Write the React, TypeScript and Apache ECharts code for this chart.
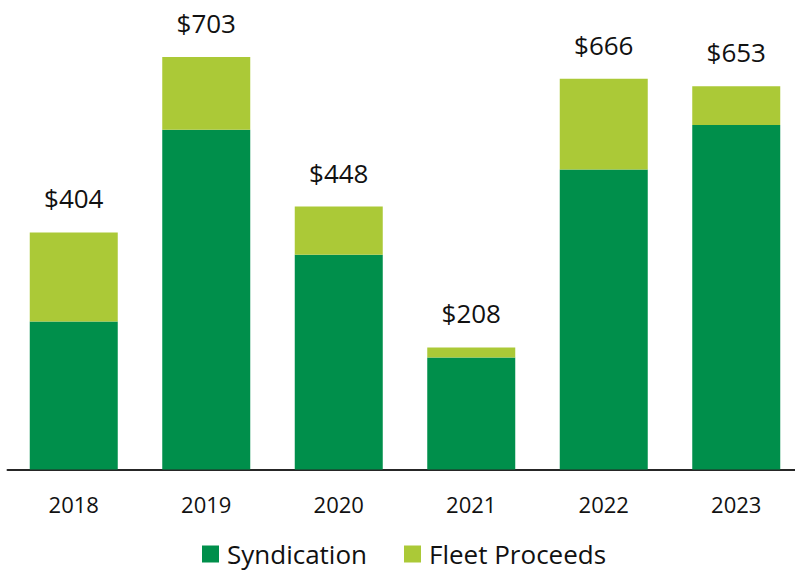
import React, { useEffect, useRef } from "react";
import * as echarts from "echarts";

const years = ["2018", "2019", "2020", "2021", "2022", "2023"];
const syndication = [252, 579, 366, 191, 511, 587];
const fleetProceeds = [152, 124, 82, 17, 155, 66];
const totals = [404, 703, 448, 208, 666, 653];

const FONT = "'Open Sans', 'Liberation Sans', sans-serif";

export default function App() {
  const ref = useRef<HTMLDivElement>(null);
  useEffect(() => {
    if (!ref.current) return;
    const chart = echarts.init(ref.current, null, { renderer: "svg" });
    chart.setOption({
      animation: false,
      grid: { left: 7.5, top: 0, width: 795, height: 469.5, containLabel: false },
      legend: {
        data: ["Syndication", "Fleet Proceeds"],
        left: 202,
        top: 539,
        padding: 0,
        itemWidth: 17,
        itemHeight: 17,
        itemGap: 37,
        icon: "rect",
        textStyle: { fontFamily: FONT, fontSize: 26, color: "#111", lineHeight: 30, padding: [0, 0, 0, 3] },
      },
      xAxis: {
        type: "category",
        data: years,
        axisLine: { lineStyle: { color: "#262626", width: 2 } },
        axisTick: { show: false },
        axisLabel: { fontFamily: FONT, fontSize: 22, color: "#111", margin: 23 },
      },
      yAxis: {
        type: "value",
        min: 0,
        max: 800,
        show: false,
        splitLine: { show: false },
      },
      series: [
        {
          name: "Syndication",
          type: "bar",
          stack: "total",
          data: syndication,
          barWidth: 88,
          itemStyle: { color: "#008f4b" },
        },
        {
          name: "Fleet Proceeds",
          type: "bar",
          stack: "total",
          data: fleetProceeds,
          barWidth: 88,
          itemStyle: { color: "#abc937" },
          label: {
            show: true,
            position: "top",
            distance: 21,
            fontFamily: FONT,
            fontSize: 26,
            color: "#111",
            formatter: (p: any) => "$" + totals[p.dataIndex],
          },
        },
      ],
    });
    return () => chart.dispose();
  }, []);
  return (
    <div style={{ width: 795, height: 574, position: "absolute", left: 0, top: 0, overflow: "hidden" }}>
      <div ref={ref} style={{ width: 810, height: 574 }} />
    </div>
  );
}
